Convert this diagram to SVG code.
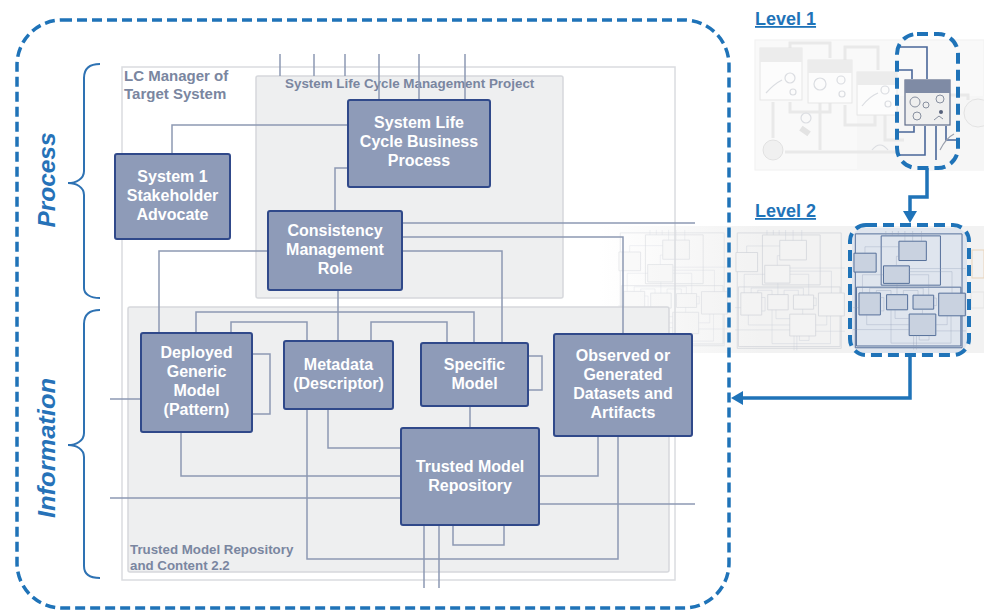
<svg xmlns="http://www.w3.org/2000/svg" width="984" height="611" viewBox="0 0 984 611">
<defs>
<style>
 .node rect{fill:#8e9bb8;stroke:#30498a;stroke-width:2}
 .node text{font-family:"Liberation Sans",Arial,sans-serif;font-weight:bold;font-size:16px;fill:#ffffff;text-anchor:middle}
 .c{fill:none;stroke:#8d99b3;stroke-width:1.5}
 .ttl{font-family:"Liberation Sans",Arial,sans-serif;font-weight:bold;fill:#7a86a0}
 .side{font-family:"Liberation Sans",Arial,sans-serif;font-weight:bold;font-style:italic;font-size:23px;fill:#2672b8;text-anchor:middle}
 .brace{fill:none;stroke:#2e72b3;stroke-width:2}
 .dash{fill:none;stroke:#1f73b8;stroke-width:3.5;stroke-dasharray:10 5}
 .dash2{fill:none;stroke:#1f73b8;stroke-width:4;stroke-dasharray:11 6}
 .arrow{fill:none;stroke:#1f73b8;stroke-width:3.5}
 .lvl{font-family:"Liberation Sans",Arial,sans-serif;font-weight:bold;font-size:18px;fill:#1f73b8;text-decoration:underline}
 .th{fill:#f8f8f8;stroke:#ececec;stroke-width:1}
 .tl{fill:none;stroke:#e2e2e2;stroke-width:3}
 .tb{fill:#fbfbfb;stroke:#dedede;stroke-width:1}
 .thd{fill:#e6e6e6}
 .ic{fill:none;stroke:#cfd2d8;stroke-width:1.2}
 .dk{fill:none;stroke:#4a6799;stroke-width:1.6}
</style>
<marker id="ah" markerUnits="userSpaceOnUse" markerWidth="12" markerHeight="14" viewBox="0 0 12 14" refX="0" refY="7" orient="auto"><path d="M0,0 L12,7 L0,14 z" fill="#1f73b8"/></marker>
<linearGradient id="band" x1="600" y1="0" x2="760" y2="0" gradientUnits="userSpaceOnUse"><stop offset="0" stop-color="#f2f2f2" stop-opacity="0"/><stop offset="1" stop-color="#f2f2f2"/></linearGradient>
<g id="mini">
 <rect x="122" y="67" width="553" height="513" fill="none" vector-effect="non-scaling-stroke"/>
 <rect x="256" y="76" width="307" height="222" fill="none" vector-effect="non-scaling-stroke"/>
 <rect x="128" y="307" width="541" height="265" fill="none" vector-effect="non-scaling-stroke"/>
 <rect x="348" y="100" width="142" height="87" vector-effect="non-scaling-stroke"/>
 <rect x="115" y="154" width="115" height="85" vector-effect="non-scaling-stroke"/>
 <rect x="268" y="211" width="134" height="79" vector-effect="non-scaling-stroke"/>
 <rect x="141" y="333" width="111" height="99" vector-effect="non-scaling-stroke"/>
 <rect x="284" y="341" width="109" height="68" vector-effect="non-scaling-stroke"/>
 <rect x="421" y="343" width="107" height="63" vector-effect="non-scaling-stroke"/>
 <rect x="554" y="334" width="138" height="102" vector-effect="non-scaling-stroke"/>
 <rect x="401" y="428" width="138" height="97" vector-effect="non-scaling-stroke"/>
</g>
</defs>
<rect x="0" y="0" width="984" height="611" fill="#ffffff"/>

<!-- Level 1 thumbnail -->
<g id="level1-thumbnail">
 <g opacity="0.75">
 <rect class="th" x="755" y="40" width="229" height="130"/>
 <rect x="857" y="96" width="127" height="74" fill="#f3f3f3"/>
 <path class="tl" d="M790,48 V43 H830 V58"/>
 <path class="tl" d="M845,60 V47 H878 V70"/>
 <path class="tl" d="M830,103 V112 H790 V102"/>
 <path class="tl" d="M875,115 V125 H845 V105"/>
 <path class="tl" d="M773,102 V138"/>
 <path class="tl" d="M785,152 H900"/>
 <path class="tl" d="M885,115 V140 H904"/>
 <path class="tl" d="M950,95 H968 V100"/>
 <path class="tl" d="M820,103 V150"/>
 <rect class="tb" x="760" y="48" width="42" height="52"/><rect class="thd" x="760" y="48" width="42" height="14"/>
 <rect class="tb" x="808" y="60" width="44" height="43"/><rect class="thd" x="808" y="60" width="44" height="13"/>
 <rect class="tb" x="857" y="72" width="40" height="43"/><rect class="thd" x="857" y="72" width="40" height="13"/>
 <path class="ic" d="M766,93 Q774,84 782,80"/><circle class="ic" cx="790" cy="78" r="5"/><circle class="ic" cx="793" cy="92" r="3"/>
 <circle class="ic" cx="820" cy="84" r="6"/><circle class="ic" cx="841" cy="80" r="4"/><circle class="ic" cx="842" cy="94" r="3"/>
 <path class="ic" d="M862,106 Q870,96 878,93"/><circle class="ic" cx="885" cy="90" r="4"/><circle class="ic" cx="888" cy="104" r="3"/>
 <circle cx="978" cy="113" r="14" fill="#f1f1f1" stroke="#dadada"/>
 <circle cx="773" cy="150" r="10" fill="#ececec" stroke="#d8d8d8"/>
 <circle class="ic" cx="806" cy="118" r="5"/>
 <rect x="800" y="128" width="10" height="6" fill="#dadada" transform="rotate(35 805 131)"/>
 <path class="ic" d="M872,150 q8,-10 16,0"/>
 </g>
 <path class="dk" d="M899,47 H927 V79"/>
 <path class="dk" d="M899,70 H912 V79"/>
 <path class="dk" d="M899,155 H925 V126"/>
 <path class="dk" d="M899,132 H914 V126"/>
 <path class="dk" d="M936,126 V160"/>
 <path class="dk" d="M946,126 V140 H956"/>
 <rect x="905" y="80" width="45" height="45" fill="#efefef" stroke="#5f6d8a" stroke-width="1.2"/>
 <rect x="905" y="80" width="45" height="13" fill="#7f8ba5"/>
 <circle cx="915" cy="102" r="5" fill="none" stroke="#8890a0"/><circle cx="926" cy="105" r="3" fill="none" stroke="#8890a0"/>
 <circle cx="940" cy="99" r="4" fill="none" stroke="#8890a0"/><circle cx="917" cy="116" r="4" fill="none" stroke="#8890a0"/>
 <circle cx="941" cy="112" r="2" fill="#55607a"/><path d="M934,120 l5,-4 l4,3" fill="none" stroke="#8890a0"/>
 <path d="M940,150 q6,-12 14,-16" fill="none" stroke="#9aa0ad" stroke-width="1.2"/>
 <rect class="dash2" x="897" y="34" width="61" height="134" rx="20"/>
</g>

<!-- Level 2 thumbnail strip -->
<g id="level2-thumbnail">
 <rect x="600" y="226" width="384" height="127" fill="url(#band)"/>
 <g opacity="0.35">
  <use href="#mini" transform="translate(618,230) scale(0.188,0.22) translate(-110,-54)" stroke="#b8bdc7" stroke-width="0.8" fill="#f4f4f4"/>
  <use href="#connectors" transform="translate(618,230) scale(0.188,0.22) translate(-110,-54)"/>
 </g>
 <g opacity="0.5">
  <use href="#mini" transform="translate(735,230) scale(0.188,0.225) translate(-110,-54)" stroke="#b8bdc7" stroke-width="0.8" fill="#f4f4f4"/>
  <use href="#connectors" transform="translate(735,230) scale(0.188,0.225) translate(-110,-54)"/>
 </g>
 <rect x="852" y="228" width="115" height="125" rx="12" fill="#dfe5ee"/>
 <use href="#mini" transform="translate(853,231) scale(0.193,0.222) translate(-110,-54)" stroke="#56709a" stroke-width="1" fill="#c9d2e0"/>
 <use href="#connectors" transform="translate(853,231) scale(0.193,0.222) translate(-110,-54)"/>
 <rect x="972" y="250" width="12" height="28" fill="none" stroke="#e8d3ba"/>
 <rect x="971" y="292" width="13" height="16" fill="none" stroke="#e4e4e4"/>
 <rect class="dash2" x="850" y="225" width="119" height="130" rx="16"/>
</g>

<!-- Containers -->
<g id="lc-manager">
 <rect x="122" y="67" width="553" height="513" fill="none" stroke="#dadce0" stroke-width="1.5"/>
 <text class="ttl" x="124" y="81" font-size="15">LC Manager of</text>
 <text class="ttl" x="124" y="99" font-size="15">Target System</text>
</g>
<g id="lifecycle-project">
 <rect x="256" y="76" width="307" height="222" rx="2" fill="#eeeff0" stroke="#d6d8dc" stroke-width="1.5"/>
 <text class="ttl" x="285" y="88" font-size="13.4">System Life Cycle Management Project</text>
</g>
<g id="repository-content">
 <rect x="128" y="307" width="541" height="265" rx="2" fill="#eeeff0" stroke="#d6d8dc" stroke-width="1.5"/>
 <text class="ttl" x="130" y="554" font-size="13.3">Trusted Model Repository</text>
 <text class="ttl" x="130" y="570" font-size="13.3">and Content 2.2</text>
</g>

<!-- Connectors -->
<g id="connectors">
 <path class="c" d="M280,54 V76"/>
 <path class="c" d="M314,54 V76"/>
 <path class="c" d="M345,54 V76"/>
 <path class="c" d="M379,54 V100"/>
 <path class="c" d="M419,54 V100"/>
 <path class="c" d="M465,54 V100"/>
 <path class="c" d="M348,125 H172 V154"/>
 <path class="c" d="M348,168 H335 V211"/>
 <path class="c" d="M268,251 H159 V333"/>
 <path class="c" d="M402,223 H695"/>
 <path class="c" d="M402,237 H623 V334"/>
 <path class="c" d="M402,251 H502 V343"/>
 <path class="c" d="M338,290 V341"/>
 <path class="c" d="M196,333 V312 H474 V343"/>
 <path class="c" d="M231,333 V322 H307 V341"/>
 <path class="c" d="M371,341 V322 H447 V343"/>
 <path class="c" d="M252,354 H270 V414 H252"/>
 <path class="c" d="M528,356 H542 V390 H528"/>
 <path class="c" d="M110,399 H141"/>
 <path class="c" d="M181,432 V476 H401"/>
 <path class="c" d="M110,498 H401"/>
 <path class="c" d="M328,409 V448 H401"/>
 <path class="c" d="M307,409 V559 H618 V436"/>
 <path class="c" d="M470,406 V428"/>
 <path class="c" d="M598,436 V476 H539"/>
 <path class="c" d="M539,504 H695"/>
 <path class="c" d="M424,525 V588"/>
 <path class="c" d="M439,525 V588"/>
 <path class="c" d="M453,525 V545 H504 V525"/>
</g>

<!-- Nodes -->
<g id="node-business-process" class="node">
 <rect x="348" y="100" width="142" height="87" rx="2"/>
 <text x="419" y="128">System Life</text>
 <text x="419" y="147">Cycle Business</text>
 <text x="419" y="166">Process</text>
</g>
<g id="node-stakeholder-advocate" class="node">
 <rect x="115" y="154" width="115" height="85" rx="2"/>
 <text x="172.5" y="182">System 1</text>
 <text x="172.5" y="201">Stakeholder</text>
 <text x="172.5" y="220">Advocate</text>
</g>
<g id="node-consistency-role" class="node">
 <rect x="268" y="211" width="134" height="79" rx="2"/>
 <text x="335" y="236">Consistency</text>
 <text x="335" y="255">Management</text>
 <text x="335" y="274">Role</text>
</g>
<g id="node-deployed-generic-model" class="node">
 <rect x="141" y="333" width="111" height="99" rx="2"/>
 <text x="196.5" y="358">Deployed</text>
 <text x="196.5" y="377">Generic</text>
 <text x="196.5" y="396">Model</text>
 <text x="196.5" y="415">(Pattern)</text>
</g>
<g id="node-metadata" class="node">
 <rect x="284" y="341" width="109" height="68" rx="2"/>
 <text x="338.5" y="370">Metadata</text>
 <text x="338.5" y="389">(Descriptor)</text>
</g>
<g id="node-specific-model" class="node">
 <rect x="421" y="343" width="107" height="63" rx="2"/>
 <text x="474.5" y="370">Specific</text>
 <text x="474.5" y="389">Model</text>
</g>
<g id="node-observed-datasets" class="node">
 <rect x="554" y="334" width="138" height="102" rx="2"/>
 <text x="623" y="361">Observed or</text>
 <text x="623" y="380">Generated</text>
 <text x="623" y="399">Datasets and</text>
 <text x="623" y="418">Artifacts</text>
</g>
<g id="node-trusted-repository" class="node">
 <rect x="401" y="428" width="138" height="97" rx="2"/>
 <text x="470" y="472">Trusted Model</text>
 <text x="470" y="491">Repository</text>
</g>

<!-- Braces and side labels -->
<g id="process-brace">
 <path class="brace" d="M100,64 C90,64 84,68 84,78 L84,171 C84,179 76,183 68,183 C76,183 84,187 84,195 L84,288 C84,294 90,298 100,298"/>
 <text class="side" transform="translate(55,180) rotate(-90)" textLength="95" lengthAdjust="spacingAndGlyphs">Process</text>
</g>
<g id="information-brace">
 <path class="brace" d="M100,310 C90,310 84,314 84,324 L84,433 C84,441 76,445 68,445 C76,445 84,449 84,457 L84,566 C84,574 90,578 100,578"/>
 <text class="side" transform="translate(55,448) rotate(-90)" textLength="140" lengthAdjust="spacingAndGlyphs">Information</text>
</g>

<!-- Main dashed frame -->
<rect id="level3-frame" class="dash" x="17" y="20" width="712" height="588" rx="45"/>

<!-- Level labels and arrows -->
<g id="level-labels">
 <text class="lvl" x="755" y="25">Level 1</text>
 <text class="lvl" x="755" y="217">Level 2</text>
</g>
<g id="level-arrows">
 <path class="arrow" d="M927,168 V197 H910 V211" marker-end="url(#ah)"/>
 <path class="arrow" d="M910,355 V398 H743" marker-end="url(#ah)"/>
</g>
</svg>
